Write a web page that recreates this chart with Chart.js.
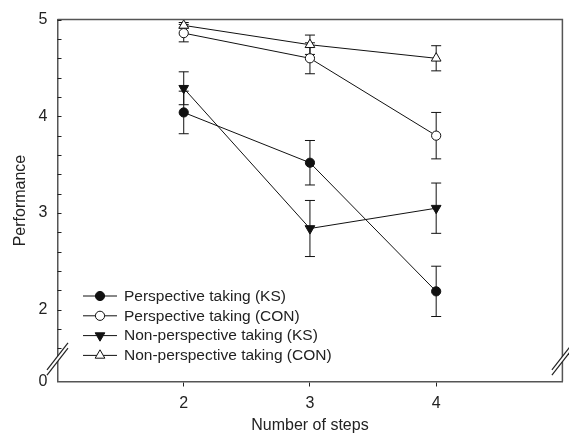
<!DOCTYPE html>
<html>
<head>
<meta charset="utf-8">
<script src="https://cdn.jsdelivr.net/npm/chart.js@4/dist/chart.umd.min.js"></script>
<style>
  html, body { margin: 0; padding: 0; background: #fff; }
</style>
</head>
<body>
<canvas id="myChart" width="569" height="434"></canvas>
<script>
// data
var steps = [2, 3, 4];
var seriesNames = ["Perspective taking (KS)", "Perspective taking (CON)",
  "Non-perspective taking (KS)", "Non-perspective taking (CON)"];
var ptKS = [4.04, 3.52, 2.19];
var ptKSErr = [0.22, 0.23, 0.26];
var ptCON = [4.86, 4.60, 3.80];
var ptCONErr = [0.09, 0.16, 0.24];
var nptKS = [4.29, 2.84, 3.05];
var nptKSErr = [0.17, 0.29, 0.26];
var nptCON = [4.94, 4.74, 4.60];
var nptCONErr = [0.03, 0.10, 0.13];
var yTickValues = [2, 3, 4, 5];

var yMin = 1.258;     // broken axis: bottom of the axis is labelled 0
var yBreak = 1.49;
var ink = "#222";
var frame = "#555";
var fontFam = "'Liberation Sans', Arial, Helvetica, sans-serif";

function pts(vals) {
  return steps.map(function (s, i) { return {x: s, y: vals[i]}; });
}

var styles = [
  {pointStyle: "circle", rot: 0, fill: "#111", r: 4.6},
  {pointStyle: "circle", rot: 0, fill: "#fff", r: 4.6},
  {pointStyle: "triangle", rot: 180, fill: "#111", r: 5.6},
  {pointStyle: "triangle", rot: 0, fill: "#fff", r: 5.6}
];
var values = [ptKS, ptCON, nptKS, nptCON];
var errs = [ptKSErr, ptCONErr, nptKSErr, nptCONErr];

var datasets = values.map(function (v, i) {
  return {
    label: seriesNames[i],
    data: pts(v),
    errors: errs[i],
    borderColor: "#111",
    borderWidth: 1,
    backgroundColor: styles[i].fill,
    pointBackgroundColor: styles[i].fill,
    pointBorderColor: "#111",
    pointBorderWidth: 1,
    pointStyle: styles[i].pointStyle,
    pointRotation: styles[i].rot,
    pointRadius: styles[i].r,
    tension: 0
  };
});

var errorBars = {
  id: "errorBars",
  beforeDatasetsDraw: function (chart) {
    var ctx = chart.ctx, xs = chart.scales.x, ys = chart.scales.y;
    ctx.save();
    ctx.strokeStyle = "#111";
    ctx.lineWidth = 1;
    chart.data.datasets.forEach(function (ds) {
      ds.data.forEach(function (p, j) {
        var e = ds.errors[j];
        var x = xs.getPixelForValue(p.x);
        var y1 = ys.getPixelForValue(p.y + e), y2 = ys.getPixelForValue(p.y - e);
        ctx.beginPath();
        ctx.moveTo(x, y1); ctx.lineTo(x, y2);
        ctx.moveTo(x - 5, y1); ctx.lineTo(x + 5, y1);
        ctx.moveTo(x - 5, y2); ctx.lineTo(x + 5, y2);
        ctx.stroke();
      });
    });
    ctx.restore();
  }
};

var frameAndLegend = {
  id: "frameAndLegend",
  afterDraw: function (chart) {
    var ctx = chart.ctx, a = chart.chartArea, ys = chart.scales.y;
    ctx.save();
    // top and right sides of the box
    ctx.strokeStyle = frame;
    ctx.lineWidth = 1.5;
    ctx.beginPath();
    ctx.moveTo(a.left, a.top); ctx.lineTo(a.right, a.top); ctx.lineTo(a.right, a.bottom);
    ctx.stroke();

    // inward ticks on the y axis every 0.2
    ctx.strokeStyle = "#222";
    ctx.lineWidth = 1;
    for (var v = 1.6; v <= 5.001; v += 0.2) {
      var ty = Math.round(ys.getPixelForValue(v)) + 0.5;
      ctx.beginPath();
      ctx.moveTo(a.left, ty); ctx.lineTo(a.left + 4, ty);
      ctx.stroke();
    }

    // axis break marks
    var by = ys.getPixelForValue(yBreak);
    [a.left, a.right].forEach(function (bx) {
      var dx = 10.5, dy = 13.5, g = 2.6;
      ctx.fillStyle = "#fff";
      ctx.beginPath();
      ctx.moveTo(bx - 3, by + 4 - g); ctx.lineTo(bx + 3, by - 4 - g);
      ctx.lineTo(bx + 3, by - 4 + g); ctx.lineTo(bx - 3, by + 4 + g);
      ctx.closePath();
      ctx.fill();
      ctx.strokeStyle = "#222";
      ctx.lineWidth = 1.2;
      [-g, g].forEach(function (o) {
        ctx.beginPath();
        ctx.moveTo(bx - dx, by + dy + o);
        ctx.lineTo(bx + dx, by - dy + o);
        ctx.stroke();
      });
    });

    // legend inside the plot
    var lx0 = 83, lx1 = 117, mx = 100, tx = 124, ly = 296, step = 19.8;
    ctx.font = "15.5px " + fontFam;
    ctx.textBaseline = "middle";
    ctx.textAlign = "left";
    chart.data.datasets.forEach(function (ds, i) {
      var y = ly + i * step;
      ctx.strokeStyle = "#111";
      ctx.lineWidth = 1;
      ctx.beginPath();
      ctx.moveTo(lx0, y); ctx.lineTo(lx1, y);
      ctx.stroke();
      ctx.fillStyle = ds.pointBackgroundColor;
      ctx.strokeStyle = "#111";
      Chart.helpers.drawPoint(ctx, {
        pointStyle: ds.pointStyle, rotation: ds.pointRotation,
        radius: ds.pointRadius, borderWidth: 1
      }, mx, y);
      ctx.fillStyle = ink;
      ctx.fillText(ds.label, tx, y + 0.5);
    });
    ctx.restore();
  }
};

new Chart("myChart", {
  type: "line",
  data: {datasets: datasets},
  plugins: [errorBars, frameAndLegend],
  options: {
    responsive: false,
    animation: false,
    layout: {padding: {top: 16, right: 2.5, left: 0, bottom: 0}},
    plugins: {legend: {display: false}, tooltip: {enabled: false}},
    scales: {
      x: {
        type: "linear",
        min: 1, max: 5,
        afterBuildTicks: function (s) { s.ticks = steps.map(function (v) { return {value: v}; }); },
        afterFit: function (s) { s.height = 52.5; },
        grid: {drawOnChartArea: false, drawTicks: true, tickLength: 5, color: "#222"},
        border: {color: frame, width: 1.5},
        ticks: {color: ink, padding: 7, font: {size: 16, family: fontFam}, maxRotation: 0},
        title: {display: true, text: "Number of steps", color: ink,
          font: {size: 16, family: fontFam, lineHeight: 1}, padding: {top: 0, bottom: 0}}
      },
      y: {
        min: yMin, max: 5,
        afterBuildTicks: function (s) {
          s.ticks = [{value: yMin}].concat(yTickValues.map(function (v) { return {value: v}; }));
        },
        afterFit: function (s) { s.width = 57.5; },
        grid: {display: false, drawTicks: false},
        border: {color: frame, width: 1.5},
        ticks: {
          color: ink, padding: 10, autoSkip: false,
          font: {size: 16, family: fontFam},
          callback: function (v) { return v === yMin ? "0" : String(v); }
        },
        title: {display: true, text: "Performance", color: ink,
          font: {size: 16, family: fontFam}, padding: {top: 11, bottom: 0}}
      }
    }
  }
});
</script>
</body>
</html>
